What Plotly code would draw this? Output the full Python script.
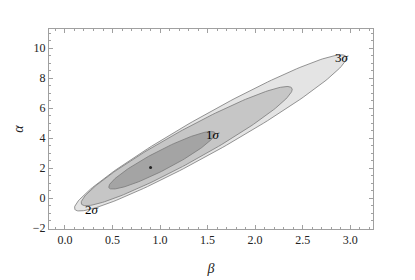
import numpy as np
import plotly.graph_objects as go

# confidence regions: centre, half-extents, correlation
levels = ["3σ", "2σ", "1σ"]
beta_centre = [1.53, 1.28, 1.02]
alpha_centre = [4.35, 3.47, 2.53]
beta_halfwidth = [1.43, 1.11, 0.56]
alpha_halfwidth = [5.2, 3.97, 1.92]
correlation = [0.962, 0.952, 0.925]
fill_colors = ["#e4e4e4", "#c6c6c6", "#a4a4a4"]

best_beta = [0.9]
best_alpha = [2.05]

label_beta = [2.91, 0.28, 1.56]
label_alpha = [9.4, -0.75, 4.25]
label_text = ["3<i>σ</i>", "2<i>σ</i>", "1<i>σ</i>"]

font_family = "Liberation Serif"


def ellipse(cx, cy, sx, sy, rho, n=200):
    """
    Returns the outline of a correlated ellipse as two lists.
    """
    t = np.linspace(0, 2 * np.pi, n)
    x = cx + sx * np.cos(t)
    y = cy + sy * (rho * np.cos(t) + np.sqrt(1 - rho ** 2) * np.sin(t))
    return x, y


fig = go.Figure()
for i, name in enumerate(levels):
    x, y = ellipse(beta_centre[i], alpha_centre[i], beta_halfwidth[i],
                   alpha_halfwidth[i], correlation[i])
    fig.add_trace(go.Scatter(x=x, y=y, mode="lines", fill="toself",
                             fillcolor=fill_colors[i], name=name,
                             line=dict(color="#7a7a7a", width=0.8),
                             hoverinfo="skip"))

fig.add_trace(go.Scatter(x=best_beta, y=best_alpha, mode="markers",
                         marker=dict(color="#222222", size=3),
                         name="best fit"))

for bx, ay, txt in zip(label_beta, label_alpha, label_text):
    fig.add_annotation(x=bx, y=ay, text=txt, showarrow=False,
                       font=dict(family=font_family, size=13, color="black"))

axis_style = dict(showgrid=False, zeroline=False, showline=True,
                  linecolor="#a0a0a0", linewidth=1, mirror="allticks",
                  ticks="inside", ticklen=4, tickcolor="#a0a0a0",
                  automargin=False,
                  tickfont=dict(family=font_family, size=12, color="#222222"))

fig.update_xaxes(range=[-0.168, 3.24], tick0=0, dtick=0.5,
                 tickformat=".1f",
                 minor=dict(dtick=0.1, ticks="inside", ticklen=2,
                            tickcolor="#a0a0a0"),
                 title=dict(text="<i>β</i>",
                            font=dict(family=font_family, size=14,
                                      color="#222222"),
                            standoff=16),
                 **axis_style)
fig.update_yaxes(range=[-2.05, 11.27], tick0=0, dtick=2,
                 minor=dict(dtick=0.5, ticks="inside", ticklen=2,
                            tickcolor="#a0a0a0"),
                 title=dict(text="<i>α</i>",
                            font=dict(family=font_family, size=14,
                                      color="#222222"),
                            standoff=5),
                 **axis_style)

# page body has an 8px margin, so margins are shifted to compensate
fig.update_layout(width=415, height=280, showlegend=False,
                  plot_bgcolor="white", paper_bgcolor="white",
                  font=dict(family=font_family),
                  margin=dict(l=41, r=50, t=21, b=59))

fig.write_html("out.html")
